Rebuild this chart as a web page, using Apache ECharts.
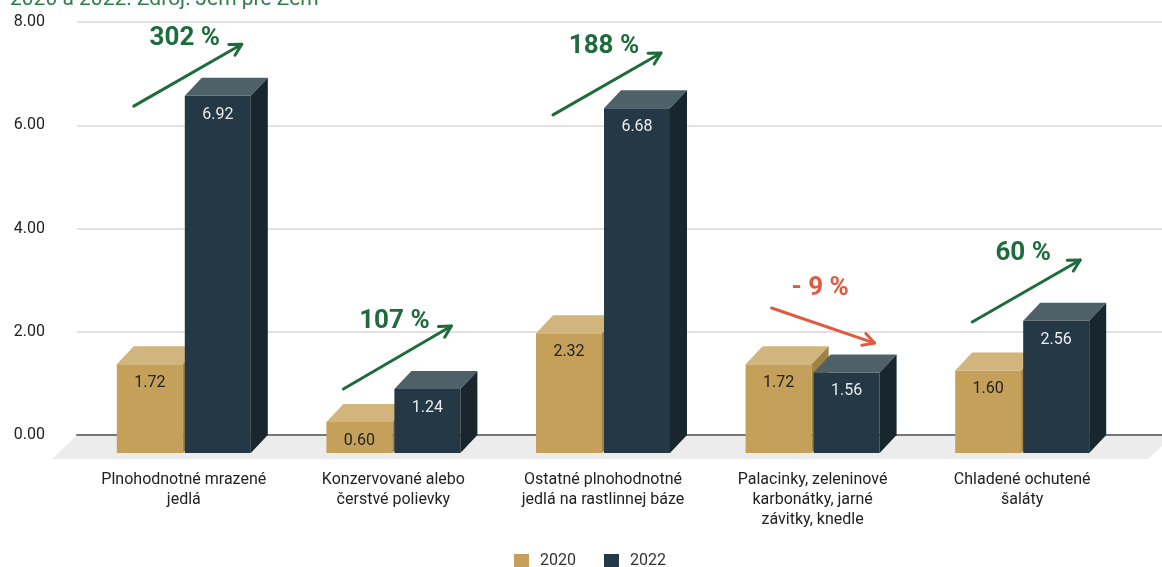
<!DOCTYPE html>
<html>
<head>
<meta charset="utf-8">
<script src="https://cdn.jsdelivr.net/npm/echarts@6/dist/echarts.min.js"></script>
<style>
  html, body { margin: 0; padding: 0; background: #fff; }
  #chart { width: 1162px; height: 567px; }
</style>
</head>
<body>
<div id="chart"></div>
<script>
var categories = [
  "Plnohodnotné mrazené\njedlá",
  "Konzervované alebo\nčerstvé polievky",
  "Ostatné plnohodnotné\njedlá na rastlinnej báze",
  "Palacinky, zeleninové\nkarbonátky, jarné\nzávitky, knedle",
  "Chladené ochutené\nšaláty"
];
var values2020 = [1.72, 0.60, 2.32, 1.72, 1.60];
var values2022 = [6.92, 1.24, 6.68, 1.56, 2.56];
var yTicks = [0, 2, 4, 6, 8];

// growth annotations
var growthLabels = ["302 %", "107 %", "188 %", "- 9 %", "60 %"];
var arrowFrom = [6.37, 0.89, 6.20, 2.46, 2.19];
var arrowTo = [7.57, 2.11, 7.40, 1.78, 3.39];
var labelAt = [7.69, 2.19, 7.52, 2.83, 3.51];

var GREEN = "#1e6b3c";
var RED = "#e05a42";
var BAR_W = 66;
var DX = 17;
var DY = 18;

function box(offset, front, top, side, textColor) {
  return function (params, api) {
    var base = api.coord([api.value(0), 0]);
    var head = api.coord([api.value(0), api.value(1)]);
    var x0 = base[0] + offset;
    var x1 = x0 + BAR_W;
    var yb = base[1] + DY;
    var yt = head[1] + DY;
    return {
      type: "group",
      children: [
        { type: "rect", shape: { x: x0, y: yt, width: BAR_W, height: yb - yt }, style: { fill: front } },
        { type: "polygon", shape: { points: [[x0, yt], [x0 + DX, yt - DY], [x1 + DX, yt - DY], [x1, yt]] }, style: { fill: top } },
        { type: "polygon", shape: { points: [[x1, yt], [x1 + DX, yt - DY], [x1 + DX, yb - DY], [x1, yb]] }, style: { fill: side } },
        {
          type: "text",
          x: x0 + BAR_W / 2,
          y: yt + 19,
          style: {
            text: api.value(1).toFixed(2),
            fill: textColor,
            font: "16px Roboto",
            align: "center",
            verticalAlign: "middle"
          }
        }
      ]
    };
  };
}

function arrow(params, api) {
  var i = api.value(0);
  var color = arrowTo[i] < arrowFrom[i] ? RED : GREEN;
  var down = arrowTo[i] < arrowFrom[i];
  var p1 = api.coord([i, arrowFrom[i]]);
  var p2 = api.coord([i, arrowTo[i]]);
  var lab = api.coord([i, labelAt[i]]);
  var xa = p1[0] + (down ? -41 : -50);
  var xb = p2[0] + (down ? 62 : 58);
  var ya = p1[1], yb = p2[1];
  var ang = Math.atan2(yb - ya, xb - xa);
  var L = 13, spread = 0.5;
  var h1 = [xb - L * Math.cos(ang - spread), yb - L * Math.sin(ang - spread)];
  var h2 = [xb - L * Math.cos(ang + spread), yb - L * Math.sin(ang + spread)];
  var st = { stroke: color, lineWidth: 3, lineCap: "round", lineJoin: "round", fill: null };
  return {
    type: "group",
    children: [
      { type: "line", shape: { x1: xa, y1: ya, x2: xb, y2: yb }, style: st },
      { type: "polyline", shape: { points: [h1, [xb, yb], h2] }, style: st },
      {
        type: "text",
        x: (xa + xb) / 2 - 3,
        y: lab[1],
        style: {
          text: growthLabels[i],
          fill: color,
          font: "bold 26px Roboto",
          align: "center",
          verticalAlign: "middle"
        }
      }
    ]
  };
}

var chart = echarts.init(document.getElementById("chart"));

chart.setOption({
  animation: false,
  textStyle: { fontFamily: "Roboto" },
  graphic: [
    {
      type: "text",
      left: 10,
      top: -11,
      z: 10,
      style: { text: "2020 a 2022. Zdroj: Jem pre Zem", fill: "#2e7d4a", font: "21px Roboto" }
    },
    {
      type: "polygon",
      z: -1,
      shape: { points: [[77, 435], [1162, 435], [1162, 446], [1148, 459], [52, 459]] },
      style: { fill: "#ececec" }
    }
  ],
  grid: [
    { left: 77, right: 0, top: 22, bottom: 132 },
    { left: 79, right: 35, top: 22, bottom: 132 }
  ],
  legend: {
    left: 509,
    top: 548,
    icon: "rect",
    itemWidth: 15,
    itemHeight: 14,
    itemGap: 28,
    textStyle: { fontSize: 16, color: "#333", fontFamily: "Roboto", padding: [0, 0, 0, 6] },
    data: ["2020", "2022"]
  },
  xAxis: [
    {
      gridIndex: 0,
      type: "category",
      data: categories,
      axisLine: { lineStyle: { color: "#777", width: 2 } },
      axisTick: { show: false },
      axisLabel: { show: false }
    },
    {
      gridIndex: 1,
      type: "category",
      data: categories,
      axisLine: { show: false },
      axisTick: { show: false },
      axisLabel: {
        margin: 35,
        fontSize: 16,
        lineHeight: 20,
        color: "#222",
        fontFamily: "Roboto",
        interval: 0
      }
    }
  ],
  yAxis: [
    {
      gridIndex: 0,
      type: "value",
      min: yTicks[0],
      max: yTicks[yTicks.length - 1],
      interval: 2,
      axisLine: { show: false },
      axisTick: { show: false },
      axisLabel: {
        margin: 32,
        fontSize: 16,
        color: "#222",
        formatter: function (v) { return v.toFixed(2); }
      },
      splitLine: { lineStyle: { color: "#d9d9d9", width: 1.5 } }
    },
    {
      gridIndex: 1,
      type: "value",
      min: yTicks[0],
      max: yTicks[yTicks.length - 1],
      show: false
    }
  ],
  series: [
    {
      name: "2020",
      type: "custom",
      xAxisIndex: 1,
      yAxisIndex: 1,
      itemStyle: { color: "#c4a05a" },
      renderItem: box(-BAR_W - 1, "#c4a05a", "#d1b57d", "#9f8343", "#222"),
      data: values2020.map(function (v, i) { return [i, v]; }),
      z: 3
    },
    {
      name: "2022",
      type: "custom",
      xAxisIndex: 1,
      yAxisIndex: 1,
      itemStyle: { color: "#243845" },
      renderItem: box(1, "#243845", "#4e6169", "#18262d", "#e8ecee"),
      data: values2022.map(function (v, i) { return [i, v]; }),
      z: 4
    },
    {
      name: "growth",
      type: "custom",
      xAxisIndex: 1,
      yAxisIndex: 1,
      renderItem: arrow,
      data: growthLabels.map(function (s, i) { return [i]; }),
      z: 5
    }
  ]
});
</script>
</body>
</html>
